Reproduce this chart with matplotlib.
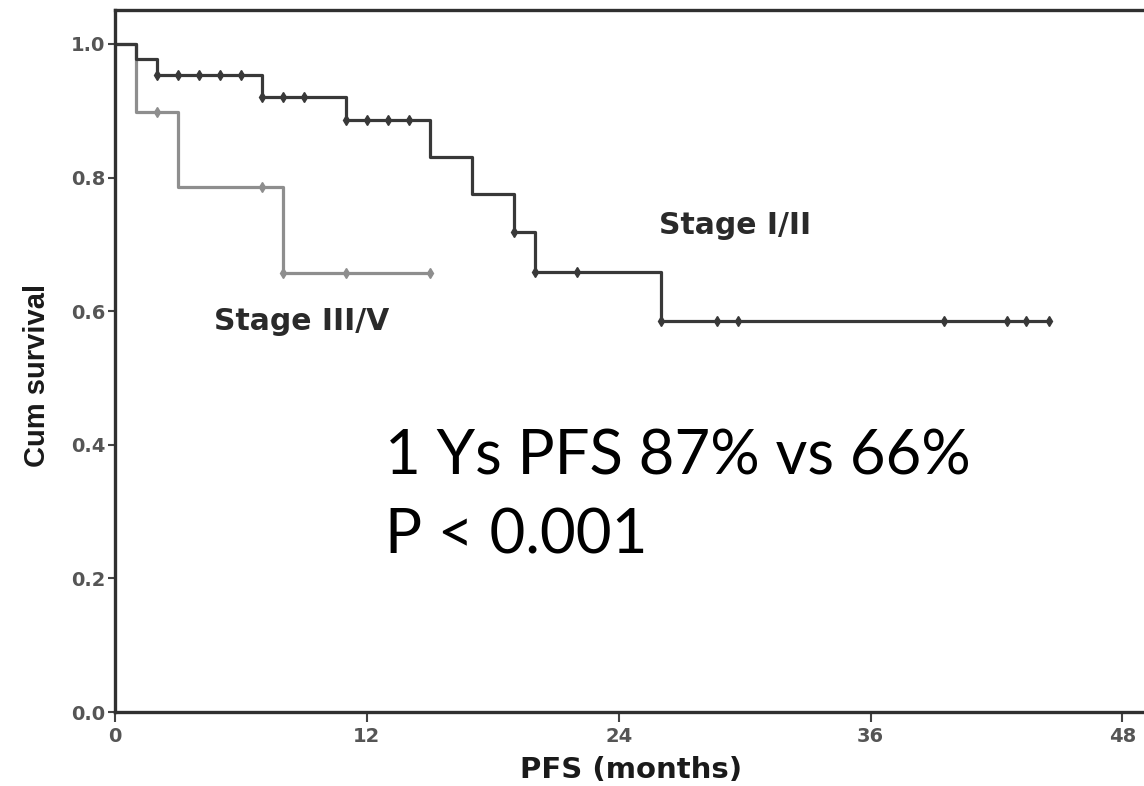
import numpy as np
import matplotlib
matplotlib.use('agg')
import matplotlib.pyplot as plt
from matplotlib.font_manager import FontProperties

# Stage I/II step curve (time in months, survival after the step)
t_early = [0, 1, 2, 7, 11, 15, 17, 19, 20, 26, 44.5]
s_early = [1.0, 0.977, 0.954, 0.921, 0.886, 0.831, 0.775, 0.719, 0.659, 0.586, 0.586]
cens_early_t = [2, 3, 4, 5, 6, 7, 8, 9, 11, 12, 13, 14, 19, 20, 22, 26, 28.7, 29.7, 39.5, 42.5, 43.4, 44.5]

# Stage III/V step curve
t_late = [0, 1, 3, 8, 15]
s_late = [1.0, 0.898, 0.786, 0.657, 0.657]
cens_late_t = [2, 7, 8, 11, 15]

def surv_at(t, times, surv):
    idx = np.searchsorted(times, t, side='right') - 1
    return np.array(surv)[idx]

fig = plt.figure(figsize=(11.44, 7.86), dpi=100)
ax = fig.add_axes([115/1144, 74/786, 1 - 115/1144 + 0.002, (712-10)/786])

dark = '#383838'
grey = '#8e8e8e'

ax.step(t_late, s_late, where='post', color=grey, lw=2.3)
ax.plot(cens_late_t, surv_at(np.array(cens_late_t), t_late, s_late), 'd',
        color=grey, ms=5, ls='none')

ax.step(t_early, s_early, where='post', color=dark, lw=2.3)
ax.plot(cens_early_t, surv_at(np.array(cens_early_t), t_early, s_early), 'd',
        color=dark, ms=5, ls='none')

ax.set_xlim(0, (1144-115)/20.94)
ax.set_ylim(0, (712-10)/668)
ax.set_xticks([0, 12, 24, 36, 48])
ax.set_yticks([0.0, 0.2, 0.4, 0.6, 0.8, 1.0])
ax.set_yticklabels(['0.0', '0.2', '0.4', '0.6', '0.8', '1.0'])

for lab in ax.get_xticklabels() + ax.get_yticklabels():
    lab.set_fontproperties(FontProperties(family='DejaVu Sans', weight='bold', size=14))
    lab.set_color('#555555')

ax.tick_params(direction='out', length=7, width=1.5, color='#444444')
ax.tick_params(axis='x', pad=4)
ax.tick_params(axis='y', pad=2, length=5)
for side in ['left', 'bottom', 'top']:
    ax.spines[side].set_linewidth(2.4)
    ax.spines[side].set_color('#303030')
ax.spines['right'].set_visible(False)

ax.set_xlabel('PFS (months)', fontsize=21, fontweight='bold', family='DejaVu Sans',
              color='#1a1a1a')
ax.xaxis.set_label_coords(0.5, -(770 - 712) / 702)
ax.xaxis.label.set_va('center')
ax.set_ylabel('Cum survival', fontsize=21, fontweight='bold',
              family=['Liberation Sans', 'DejaVu Sans'], color='#1a1a1a')
ax.yaxis.set_label_coords((37 - 115) / 1029, (712 - 375) / 702)
ax.yaxis.label.set_va('center')

ax.text(25.9, 0.729, 'Stage I/II', fontsize=21.5, fontweight='bold',
        family=['DejaVu Sans'], color='#2a2a2a', va='center')
ax.text(4.7, 0.584, 'Stage III/V', fontsize=21.5, fontweight='bold',
        family=['DejaVu Sans'], color='#2a2a2a', va='center')

bigfont = ['Lato', 'DejaVu Sans']
ax.text(12.85, 0.355, '1 Ys PFS 87% vs 66%', fontsize=44.5,
        family=bigfont, color='black', va='baseline')
ax.text(12.85, 0.238, 'P < 0.001', fontsize=44.5,
        family=bigfont, color='black', va='baseline')

fig.savefig('out.png', dpi=100)
